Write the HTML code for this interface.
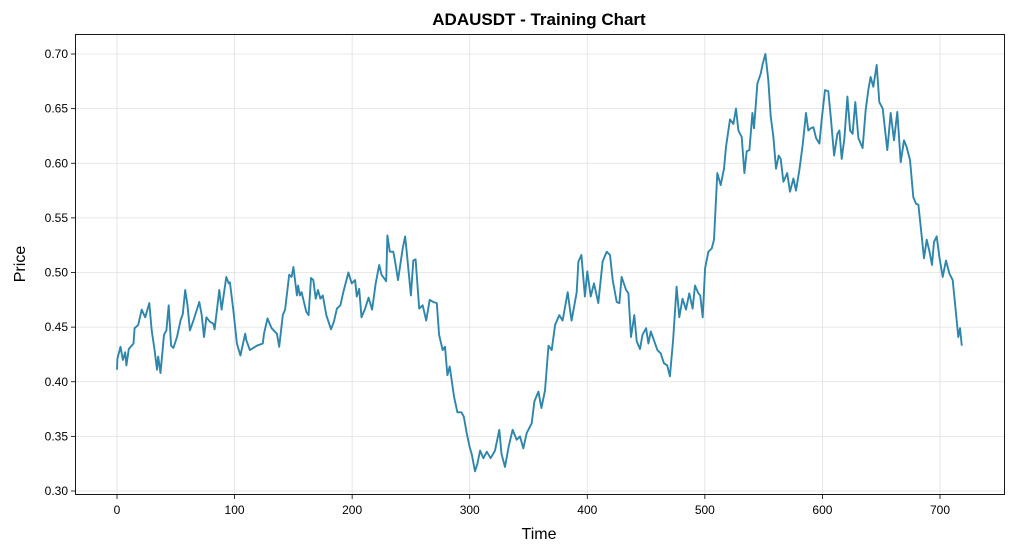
<!DOCTYPE html>
<html><head><meta charset="utf-8"><style>
html,body{margin:0;padding:0;background:#fff;}
svg{display:block;font-family:"Liberation Sans","DejaVu Sans",sans-serif;}
</style></head><body>
<svg id="chart" width="1014" height="552" viewBox="0 0 1014 552">
<rect x="0" y="0" width="1014" height="552" fill="#fff"/>
<text x="539" y="25" text-anchor="middle" font-size="17" font-weight="bold" fill="#000">ADAUSDT - Training Chart</text>
<g id="grid"></g>
<g id="ticks"></g>
<path id="line" fill="none" stroke="#2e86ab" stroke-width="1.9" stroke-linejoin="round"/>
<rect x="75.5" y="34.5" width="929" height="460" fill="none" stroke="#000" stroke-width="0.9"/>
<text x="539" y="539" text-anchor="middle" font-size="16" fill="#000">Time</text>
<text x="25" y="264" text-anchor="middle" font-size="16" fill="#000" transform="rotate(-90 25 264)">Price</text>
</svg>
<script>
const times=[0,0.3,3,5,7,8,10,14,15,18,21,24,27.5,29.5,32,34,35,37,40,42,44,46,48,51,54,56,58,60,62,65,70,72,74,76,79,82,83,87,89,93,95,96,99,102,105,109,110,113,119,124,125,128,131.5,136,138,141,143,146.5,148.5,150,153,154,155.6,157,161,163,165,167,169,171,173,175,178,182,184.5,187,190,192.5,196.8,199.6,202.5,204,206,208,211,214,217,220,223,225,229,230,232,235,236.5,239,243,245,246.4,250,252,254,257,260,263,266,269,272,274,277,279,281,283,286.7,289.5,293,295,297.4,300,301.7,304.5,306.5,308.8,311.6,314.5,317.8,321.5,325.2,327,330,333,336.5,340,342.8,345.6,348.5,352.7,355,358.4,361,364,367,369.7,372.6,376.2,379,383.3,385.3,386.7,391,392.4,395,398,400,402.9,405.7,409.4,413,416.5,419.3,421.6,425,427.3,429.2,433,435,437.2,440,442,444.8,447,450,452,454,456.7,459.6,462.4,465.2,468,470.3,473,476,478.3,481,484,486.8,489.6,491.6,494.4,496,498.2,500.2,503,505.8,507.8,510.6,513.5,516.3,518,521.4,524.3,526.5,528.5,531.3,533.6,535.6,537.9,540.4,541.8,544.7,547.5,549.2,551.5,554,556,558.3,560.5,562.8,564.5,566.8,570,572.4,575.3,577.5,580.4,583.2,586,588,590,592.3,594.6,597.4,599.4,602.2,605,607.3,609.9,612.7,614.4,616.4,618.7,621.2,623.5,625.7,628,630.6,634.2,636.8,639,641,643.3,646.2,648.4,651.3,655.2,658.1,660.9,663.7,666.6,669.4,671.6,674.5,677.3,679.6,681.6,683.6,686.4,688.7,690.9,693.2,694.9,697.2,699.5,702.3,705.1,708,710.8,714.2,715.6,717,718.5];
const prices=[0.411,0.421,0.432,0.42,0.427,0.415,0.43,0.435,0.449,0.452,0.466,0.459,0.472,0.447,0.429,0.411,0.423,0.408,0.443,0.447,0.47,0.433,0.431,0.441,0.456,0.462,0.484,0.47,0.447,0.456,0.473,0.461,0.441,0.459,0.455,0.453,0.448,0.484,0.466,0.496,0.49,0.491,0.465,0.435,0.424,0.444,0.438,0.429,0.433,0.435,0.444,0.458,0.449,0.444,0.432,0.461,0.466,0.498,0.496,0.505,0.479,0.488,0.479,0.482,0.464,0.461,0.495,0.493,0.476,0.484,0.476,0.479,0.461,0.448,0.455,0.467,0.47,0.482,0.5,0.49,0.493,0.478,0.485,0.459,0.467,0.477,0.466,0.49,0.507,0.498,0.492,0.534,0.519,0.519,0.51,0.493,0.522,0.533,0.519,0.479,0.511,0.512,0.467,0.47,0.456,0.475,0.473,0.472,0.443,0.429,0.432,0.406,0.414,0.386,0.372,0.372,0.368,0.353,0.34,0.334,0.318,0.325,0.337,0.33,0.336,0.33,0.337,0.356,0.334,0.322,0.34,0.356,0.347,0.35,0.339,0.353,0.362,0.382,0.391,0.376,0.392,0.433,0.429,0.452,0.461,0.456,0.482,0.466,0.456,0.482,0.51,0.516,0.478,0.501,0.478,0.49,0.472,0.51,0.519,0.516,0.493,0.473,0.472,0.496,0.484,0.481,0.441,0.461,0.437,0.43,0.443,0.449,0.435,0.446,0.438,0.429,0.426,0.417,0.415,0.405,0.438,0.487,0.459,0.476,0.466,0.481,0.467,0.488,0.481,0.479,0.459,0.504,0.519,0.522,0.53,0.591,0.58,0.595,0.615,0.64,0.636,0.65,0.63,0.624,0.591,0.611,0.612,0.646,0.632,0.673,0.682,0.691,0.7,0.676,0.643,0.624,0.595,0.607,0.604,0.583,0.591,0.574,0.586,0.575,0.594,0.617,0.646,0.63,0.632,0.633,0.623,0.618,0.64,0.667,0.666,0.64,0.607,0.627,0.63,0.604,0.623,0.661,0.63,0.627,0.656,0.623,0.614,0.649,0.667,0.679,0.67,0.69,0.656,0.65,0.612,0.646,0.621,0.647,0.601,0.621,0.615,0.603,0.569,0.563,0.562,0.542,0.513,0.53,0.52,0.507,0.528,0.533,0.514,0.496,0.511,0.499,0.493,0.456,0.441,0.449,0.433];
const xTicks=[0,100,200,300,400,500,600,700];
const yTicks=[0.30,0.35,0.40,0.45,0.50,0.55,0.60,0.65,0.70];
const NS="http://www.w3.org/2000/svg";
function xs(t){return 117+t*(823/700);}
function ys(p){return 54+(0.70-p)*1092.5;}
const grid=document.getElementById('grid'),ticks=document.getElementById('ticks');
function mk(tag,attrs,parent){const e=document.createElementNS(NS,tag);for(const k in attrs)e.setAttribute(k,attrs[k]);parent.appendChild(e);return e;}
xTicks.forEach(v=>{const x=xs(v);
 const g=mk('line',{x1:x,x2:x,y1:34.5,y2:494.5,stroke:'#e0e0e0','stroke-width':0.8},grid);
 
 
 const tk=mk('line',{x1:x,x2:x,y1:494.5,y2:499,stroke:'#000','stroke-width':0.8},ticks);
 
 
 const t=mk('text',{x:x,y:514,'text-anchor':'middle','font-size':12,fill:'#000'},ticks);t.textContent=v;
 
 
});
yTicks.forEach(v=>{const y=ys(v);
 const g=mk('line',{x1:75.5,x2:1004.5,y1:y,y2:y,stroke:'#e0e0e0','stroke-width':0.8},grid);
 
 
 const tk=mk('line',{x1:71,x2:75.5,y1:y,y2:y,stroke:'#000','stroke-width':0.8},ticks);
 
 
 const t=mk('text',{x:68,y:y+4,'text-anchor':'end','font-size':12,fill:'#000'},ticks);t.textContent=v.toFixed(2);
 
 
});
document.getElementById('line').setAttribute('d',times.map((t,i)=>(i?'L':'M')+xs(t).toFixed(1)+','+ys(prices[i]).toFixed(1)).join(''));
</script>
</body></html>
